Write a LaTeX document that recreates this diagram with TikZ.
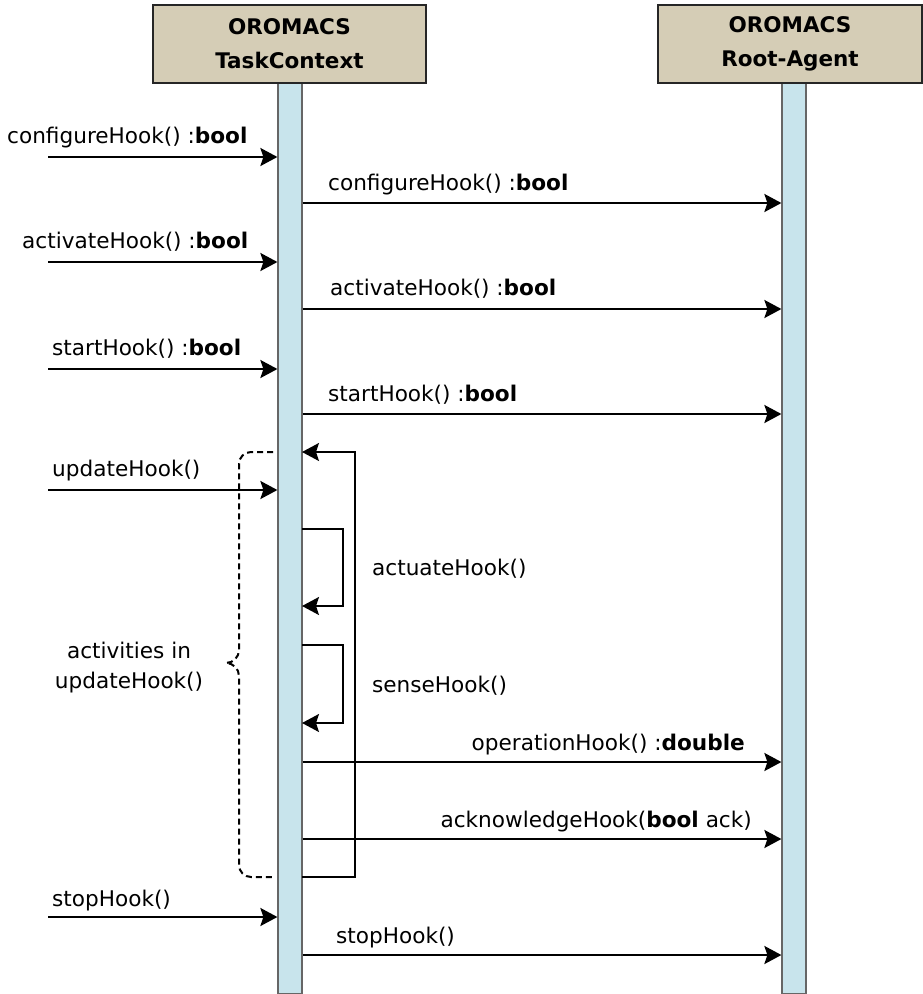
\documentclass[tikz,border=0pt]{standalone}
\usepackage{fontspec}
\setmainfont{DejaVu Sans}
\usetikzlibrary{calc, arrows.meta}

\definecolor{headtan}{RGB}{213,205,182}
\definecolor{lifeblue}{RGB}{200,228,236}

\tikzset{
  header/.style={draw=black!85, line width=1.5pt, fill=headtan, minimum height=78pt,
    inner sep=0pt, align=center, font=\fontsize{21.5}{34}\selectfont\bfseries},
  lifeline/.style={draw=black!60, line width=1.2pt, fill=lifeblue, minimum width=24pt,
    minimum height=910pt, anchor=north, inner sep=0pt},
  msg/.style={line width=2.2pt, -{Stealth[length=17pt,width=18pt,inset=3pt]}},
  selfmsg/.style={line width=1.8pt, -{Stealth[length=17pt,width=18pt,inset=3pt]}},
  msglabel/.style={anchor=base west, inner sep=0pt, font=\fontsize{21.6}{30}\selectfont},
  bracket/.style={dash pattern=on 6pt off 4pt, line width=2pt},
}

\begin{document}
\begin{tikzpicture}[x=1pt, y=-1pt]
  \useasboundingbox (0,0) rectangle (923,994);

  % lifelines
  \node[lifeline] (tc) at (290,83) {};
  \node[lifeline] (ra) at (794,83) {};

  % participants
  \node[header, minimum width=273pt] (tchead) at (289.5,44) {OROMACS\\TaskContext};
  \node[header, minimum width=264pt] (rahead) at (790,44) {OROMACS\\Root-Agent};

  % configure
  \coordinate (cfgIn) at (48,157);
  \coordinate (cfgOut) at (0,203);
  \draw[msg] (cfgIn) -- (cfgIn -| tc.west);
  \node[msglabel] (cfgInLbl) at (7,143) {configureHook() :\textbf{bool}};
  \draw[msg] (tc.east |- cfgOut) -- (ra.west |- cfgOut);
  \node[msglabel] (cfgOutLbl) at (328,190) {configureHook() :\textbf{bool}};

  % activate
  \coordinate (actIn) at (48,262);
  \coordinate (actOut) at (0,309);
  \draw[msg] (actIn) -- (actIn -| tc.west);
  \node[msglabel] (actInLbl) at (22,248) {activateHook() :\textbf{bool}};
  \draw[msg] (tc.east |- actOut) -- (ra.west |- actOut);
  \node[msglabel] (actOutLbl) at (330,295) {activateHook() :\textbf{bool}};

  % start
  \coordinate (stIn) at (48,369);
  \coordinate (stOut) at (0,414);
  \draw[msg] (stIn) -- (stIn -| tc.west);
  \node[msglabel] (stInLbl) at (52,355) {startHook() :\textbf{bool}};
  \draw[msg] (tc.east |- stOut) -- (ra.west |- stOut);
  \node[msglabel] (stOutLbl) at (328,401) {startHook() :\textbf{bool}};

  % update cycle
  \coordinate (updTop) at (302,452);
  \coordinate (updBot) at (302,877);
  \draw[selfmsg] (updBot) -- ++(53,0) |- (updTop);
  \coordinate (updIn) at (48,490);
  \draw[msg] (updIn) -- (updIn -| tc.west);
  \node[msglabel] (updInLbl) at (52,476) {updateHook()};

  % actuate / sense
  \coordinate (actuTop) at (302,529);
  \coordinate (actuBot) at (302,606);
  \draw[selfmsg] (actuTop) -- ++(41,0) |- (actuBot);
  \node[msglabel] (actuLbl) at (372,575) {actuateHook()};
  \coordinate (senTop) at (302,645);
  \coordinate (senBot) at (302,723);
  \draw[selfmsg] (senTop) -- ++(41,0) |- (senBot);
  \node[msglabel] (senLbl) at (372,692) {senseHook()};

  % operation / acknowledge
  \coordinate (opOut) at (0,762);
  \draw[msg] (tc.east |- opOut) -- (ra.west |- opOut);
  \node[msglabel, anchor=base east] (opLbl) at (745,750) {operationHook() :\textbf{double}};
  \coordinate (ackOut) at (0,839);
  \draw[msg] (tc.east |- ackOut) -- (ra.west |- ackOut);
  \node[msglabel, anchor=base east] (ackLbl) at (752,827) {acknowledgeHook(\textbf{bool} ack)};

  % bracket round the update activities
  \coordinate (brTop) at (273,452);
  \coordinate (brTip) at (226,663);
  \coordinate (brBot) at (272,877);
  \draw[bracket] (brTop) -- (251,452) to[out=180,in=90] (239,464) -- (239,650)
    to[out=-90,in=0] (brTip) to[out=0,in=90] (239,676) -- (239,865)
    to[out=-90,in=180] (251,877) -- (brBot);
  \node[msglabel, anchor=center, align=center] (brLbl) at (129,668) {activities in\\updateHook()};

  % stop
  \coordinate (spIn) at (48,917);
  \coordinate (spOut) at (0,955);
  \draw[msg] (spIn) -- (spIn -| tc.west);
  \node[msglabel] (spInLbl) at (52,906) {stopHook()};
  \draw[msg] (tc.east |- spOut) -- (ra.west |- spOut);
  \node[msglabel] (spOutLbl) at (336,943) {stopHook()};
\end{tikzpicture}
\end{document}
